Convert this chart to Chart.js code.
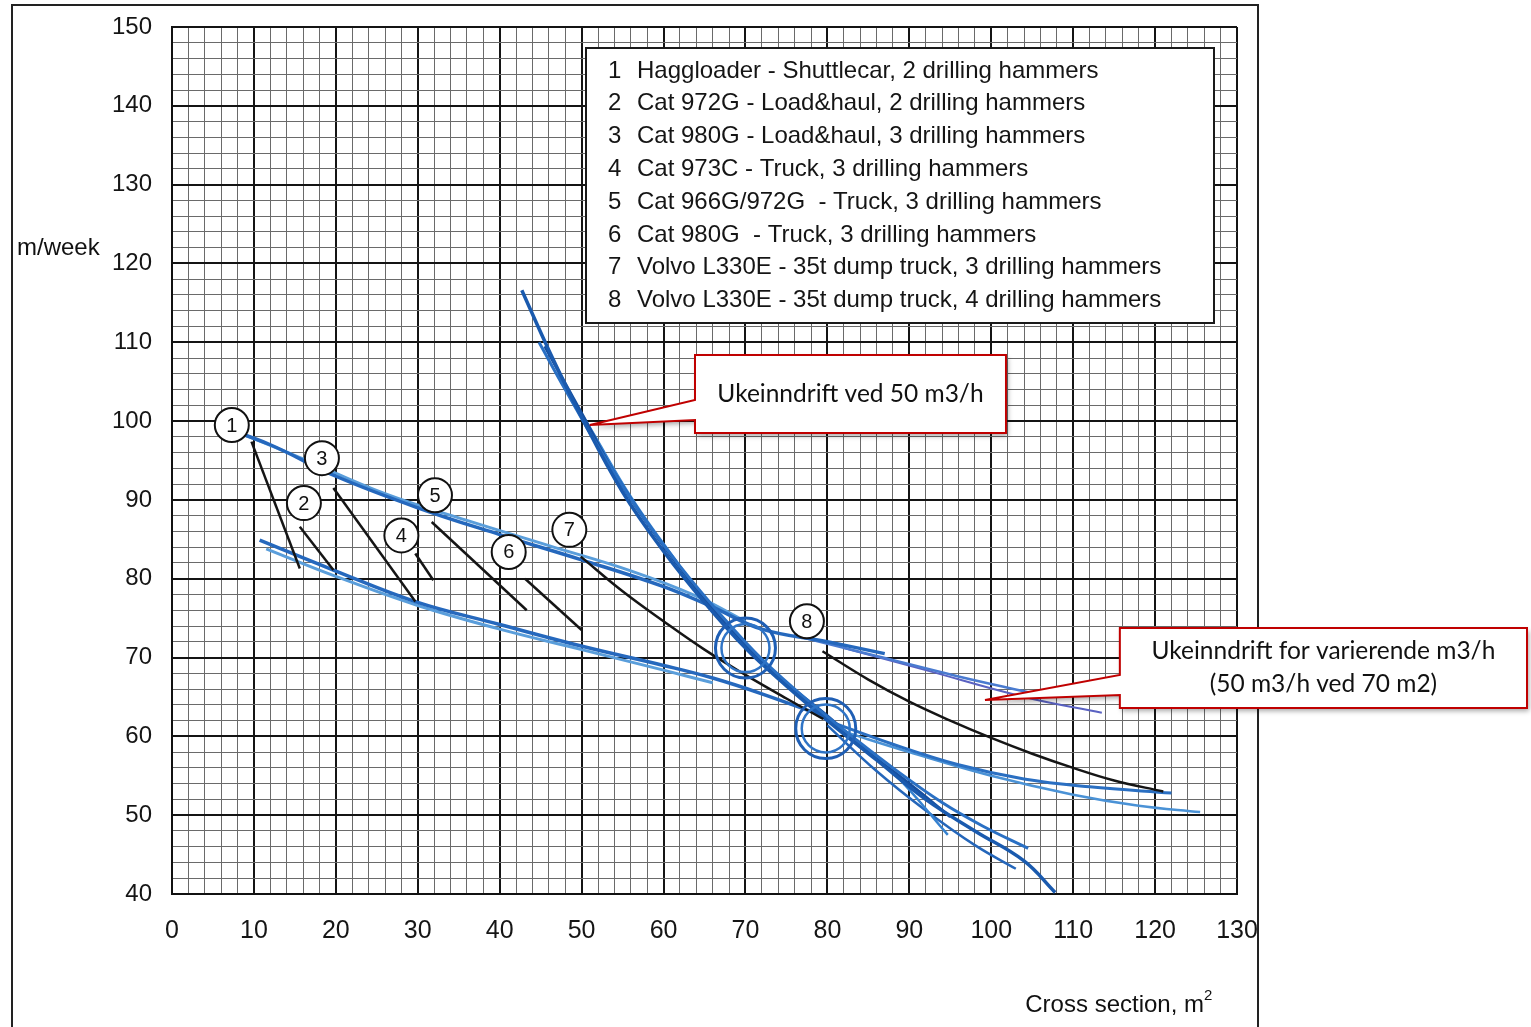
<!DOCTYPE html>
<html>
<head>
<meta charset="utf-8">
<title>Ukeinndrift</title>
<script src="https://cdn.jsdelivr.net/npm/chart.js@4.4.1/dist/chart.umd.min.js"></script>
<style>
  html, body { margin: 0; padding: 0; background: #fff; }
  canvas { display: block; }
</style>
</head>
<body>
<canvas id="chart" width="1531" height="1027"></canvas>
<script>
// axis ranges and tick labels
var xMin = 0, xMax = 130, yMin = 40, yMax = 150;
var xTickLabels = [0, 10, 20, 30, 40, 50, 60, 70, 80, 90, 100, 110, 120, 130];
var yTickLabels = [40, 50, 60, 70, 80, 90, 100, 110, 120, 130, 140, 150];

var legendLines = [
  "1  Haggloader - Shuttlecar, 2 drilling hammers",
  "2  Cat 972G - Load&haul, 2 drilling hammers",
  "3  Cat 980G - Load&haul, 3 drilling hammers",
  "4  Cat 973C - Truck, 3 drilling hammers",
  "5  Cat 966G/972G  - Truck, 3 drilling hammers",
  "6  Cat 980G  - Truck, 3 drilling hammers",
  "7  Volvo L330E - 35t dump truck, 3 drilling hammers",
  "8  Volvo L330E - 35t dump truck, 4 drilling hammers"
];

// numbered markers [x, y]
var markerNames = ["1", "2", "3", "4", "5", "6", "7", "8"];
var markerPoints = [[7.3, 99.5], [16.1, 89.6], [18.3, 95.3], [28.0, 85.5],
                    [32.1, 90.6], [41.1, 83.4], [48.5, 86.2], [77.5, 74.6]];

// black hand-drawn lines
var black1 = [[9.7, 97.4], [15.6, 81.3]];
var black2 = [[15.6, 86.6], [19.7, 81.1]];
var black3 = [[19.7, 91.5], [29.7, 77.1]];
var black4 = [[29.7, 83.2], [31.9, 79.8]];
var black5 = [[31.7, 87.2], [43.3, 76.0]];
var black6 = [[43.1, 80.0], [50.0, 73.5]];
var black7 = [[49.9, 82.8], [55, 78.4], [60, 74.6], [65, 71.0], [70, 67.8], [75, 64.8], [79.5, 62.2]];
var black8 = [[79.4, 70.8], [85, 67.2], [90, 64.4], [95, 62.0], [100, 59.8], [105, 57.8], [110, 56.0], [115, 54.4], [121, 53.0]];

// blue band, upper (shallow)
var upper1 = [[5.9, 99.3], [12, 97.0], [20, 93.0], [30, 89.0], [40, 85.6], [50, 82.4], [60, 79.0], [66, 76.4], [72, 73.6], [80, 72.0], [87, 70.5]];
var upper2 = [[8, 98.6], [16, 95.2], [26, 90.8], [36, 87.4], [46, 84.2], [56, 81.0], [64, 77.8], [70, 74.6]];
var upper3 = [[76, 72.8], [86, 70.2], [96, 67.6], [104.5, 65.6]];
var upper4 = [[82, 71.2], [92, 68.4], [104, 65.0], [113.5, 63.0]];

// blue band, lower (shallow)
var lower1 = [[10.7, 84.9], [19.7, 81.1], [29.7, 77.1], [40, 74.2], [50.2, 71.4], [60, 69.0], [66, 67.4], [72, 65.4], [80, 62.4]];
var lower2 = [[11.5, 83.8], [20, 80.3], [30, 76.6], [40, 73.6], [50, 71.0], [60, 68.4], [66, 66.8]];
var lower3 = [[80, 62.0], [88, 59.0], [96, 56.4], [104, 54.6], [112, 53.6], [122, 52.8]];
var lower4 = [[82, 60.6], [90, 58.0], [100, 55.0], [110, 52.6], [118, 51.2], [125.5, 50.4]];

// blue band, steep (50 m3/h)
var steep1 = [[42.7, 116.6], [46, 109], [50, 100.5], [55, 91], [60, 83.5], [65, 77], [70, 71.2], [75, 66.4], [80, 62], [86, 57], [92, 52], [98, 48], [104, 44.2], [107.8, 40.2]];
var steep2 = [[44.8, 110], [48, 104], [52, 96.8], [57, 88.6], [62, 81.6], [67, 75.4], [72, 69.8], [78, 64.2], [83, 60], [88, 56], [94, 51.6], [99, 48.6], [104.5, 45.8]];
var steep3 = [[45.5, 109.5], [50, 101], [54, 93.4], [59, 85.6], [64, 78.8], [69, 72.8], [74, 67.6], [80, 62.6], [85, 58], [90, 54], [95, 49.8]];
var steep4 = [[47, 106], [51, 99.2], [56, 90.4], [61, 83], [66, 76.2], [71, 70.6], [76, 65.6], [82, 60.4], [88, 55.4], [94.7, 47.5]];
var steep5 = [[80, 61.4], [86, 55.6], [92, 50.6], [98, 46.2], [103, 43.2]];

// hand-drawn rings round the crossings
var ringPoints = [[70.0, 71.2], [79.8, 61.0]];

function pts(arr) {
  return arr.map(function(p) { return {x: p[0], y: p[1]}; });
}

function line(arr, color, width, tension) {
  return {
    data: pts(arr),
    showLine: true,
    borderColor: color,
    borderWidth: width,
    pointRadius: 0,
    tension: tension,
    fill: false
  };
}

function ring(radius, color, width) {
  return {
    data: pts(ringPoints),
    showLine: false,
    pointRadius: radius,
    pointBackgroundColor: 'rgba(0,0,0,0)',
    pointBorderColor: color,
    pointBorderWidth: width
  };
}

var datasets = [
  {
    data: pts(markerPoints),
    showLine: false,
    pointStyle: 'circle',
    pointRadius: 17,
    pointBackgroundColor: '#fff',
    pointBorderColor: '#111',
    pointBorderWidth: 2
  },
  ring(30, '#1f5fb5', 3),
  ring(24, '#2f74c6', 2.5),
  line(black1, '#151515', 2.5, 0),
  line(black2, '#151515', 2.5, 0),
  line(black3, '#151515', 2.5, 0),
  line(black4, '#151515', 2.5, 0),
  line(black5, '#151515', 2.5, 0),
  line(black6, '#151515', 2.5, 0),
  line(black7, '#151515', 2.5, 0.4),
  line(black8, '#151515', 2.5, 0.4),
  line(steep1, '#1a5aae', 3.5, 0.4),
  line(steep2, '#2a70c4', 3, 0.4),
  line(steep3, '#174f9f', 3, 0.4),
  line(steep4, '#3682d0', 2.5, 0.4),
  line(steep5, '#2466ba', 2.5, 0.4),
  line(upper1, '#2568bd', 3.5, 0.4),
  line(upper2, '#5a9edb', 3, 0.4),
  line(upper3, '#4a7bd0', 2.5, 0.4),
  line(upper4, '#5a62c2', 2, 0.4),
  line(lower1, '#2568bd', 3.5, 0.4),
  line(lower2, '#5a9edb', 3, 0.4),
  line(lower3, '#2a6fc2', 3, 0.4),
  line(lower4, '#4a92d6', 2.5, 0.4)
];

// frame round the page and the legend box
var backdrop = {
  id: 'backdrop',
  beforeDraw: function(chart) {
    var ctx = chart.ctx;
    ctx.save();
    ctx.fillStyle = '#fff';
    ctx.fillRect(0, 0, chart.width, chart.height);
    ctx.strokeStyle = '#222';
    ctx.lineWidth = 2;
    ctx.beginPath();
    ctx.moveTo(12, chart.height + 5);
    ctx.lineTo(12, 5);
    ctx.lineTo(1258, 5);
    ctx.lineTo(1258, chart.height + 5);
    ctx.stroke();

    ctx.fillStyle = '#111';
    ctx.font = '24px "Liberation Sans", Arial, sans-serif';
    ctx.textBaseline = 'middle';
    ctx.textAlign = 'left';
    ctx.fillText('m/week', 17, 248);

    ctx.textAlign = 'right';
    ctx.textBaseline = 'alphabetic';
    ctx.fillText('Cross section, m', 1204, 1012);
    ctx.font = '15px "Liberation Sans", Arial, sans-serif';
    ctx.textAlign = 'left';
    ctx.fillText('2', 1204, 1000);
    ctx.restore();
  },
  beforeDatasetsDraw: function(chart) {
    var ctx = chart.ctx;
    ctx.save();
    ctx.fillStyle = '#fff';
    ctx.fillRect(586, 48, 628, 275);
    ctx.strokeStyle = '#1a1a1a';
    ctx.lineWidth = 2;
    ctx.strokeRect(586, 48, 628, 275);
    ctx.fillStyle = '#151515';
    ctx.font = '24px "Liberation Sans", Arial, sans-serif';
    ctx.textBaseline = 'middle';
    ctx.textAlign = 'left';
    legendLines.forEach(function(t, i) {
      var num = t.substring(0, 1);
      var rest = t.substring(3);
      ctx.fillText(num, 608, 71 + i * 32.8);
      ctx.fillText(rest, 637, 71 + i * 32.8);
    });
    ctx.restore();
  }
};

// callout boxes, anchored in data coordinates
var callouts = [
  {
    tip: [51.0, 99.5], left: 63.84, right: 101.8, top: 108.4, bottom: 98.49,
    wedgeTop: 102.68, wedgeBottom: 100.14,
    lines: ["Ukeinndrift ved 50 m3/h"]
  },
  {
    tip: [99.24, 64.6], left: 115.7, right: 165.4, top: 73.75, bottom: 63.6,
    wedgeTop: 67.8, wedgeBottom: 65.25,
    lines: ["Ukeinndrift for varierende m3/h", "(50 m3/h ved 70 m2)"]
  }
];

var overlay = {
  id: 'overlay',
  afterDatasetsDraw: function(chart) {
    var ctx = chart.ctx;
    var xs = chart.scales.x, ys = chart.scales.y;

    // numbers in the marker circles
    var meta = chart.getDatasetMeta(0);
    ctx.save();
    ctx.fillStyle = '#111';
    ctx.font = '20px "Liberation Sans", Arial, sans-serif';
    ctx.textAlign = 'center';
    ctx.textBaseline = 'middle';
    meta.data.forEach(function(el, i) {
      ctx.fillText(markerNames[i], el.x, el.y + 1);
    });
    ctx.restore();

    callouts.forEach(function(c) {
      var l = xs.getPixelForValue(c.left), r = xs.getPixelForValue(c.right);
      var t = ys.getPixelForValue(c.top), b = ys.getPixelForValue(c.bottom);
      var wt = ys.getPixelForValue(c.wedgeTop), wb = ys.getPixelForValue(c.wedgeBottom);
      var tx = xs.getPixelForValue(c.tip[0]), ty = ys.getPixelForValue(c.tip[1]);
      ctx.save();
      ctx.beginPath();
      ctx.moveTo(l, t);
      ctx.lineTo(r, t);
      ctx.lineTo(r, b);
      ctx.lineTo(l, b);
      ctx.lineTo(l, wb);
      ctx.lineTo(tx, ty);
      ctx.lineTo(l, wt);
      ctx.closePath();
      ctx.shadowColor = 'rgba(0,0,0,0.35)';
      ctx.shadowBlur = 5;
      ctx.shadowOffsetX = 2;
      ctx.shadowOffsetY = 3;
      ctx.fillStyle = '#fff';
      ctx.fill();
      ctx.shadowColor = 'rgba(0,0,0,0)';
      ctx.strokeStyle = '#c00000';
      ctx.lineWidth = 2;
      ctx.stroke();
      ctx.fillStyle = '#111';
      ctx.font = '24.5px Lato, "Open Sans", sans-serif';
      ctx.textAlign = 'center';
      ctx.textBaseline = 'middle';
      var cx = (l + r) / 2, cy = (t + b) / 2;
      var step = 33;
      c.lines.forEach(function(s, i) {
        ctx.fillText(s, cx, cy + (i - (c.lines.length - 1) / 2) * step);
      });
      ctx.restore();
    });
  }
};

function gridColor(ctx) {
  if (!ctx.tick) return '#555';
  return ctx.tick.value % 10 === 0 ? '#141414' : '#6a6a6a';
}

function gridWidth(ctx) {
  if (!ctx.tick) return 1;
  return ctx.tick.value % 10 === 0 ? 2 : 1;
}

new Chart(document.getElementById('chart'), {
  type: 'scatter',
  data: { datasets: datasets },
  options: {
    responsive: false,
    animation: false,
    devicePixelRatio: 1,
    // no extra room for the big rings, keep the plot where the paper has it
    layout: { autoPadding: false, padding: { left: 0, top: 27, right: 294, bottom: 0 } },
    plugins: {
      legend: { display: false },
      tooltip: { enabled: false }
    },
    scales: {
      x: {
        type: 'linear',
        min: xMin,
        max: xMax,
        afterFit: function(scale) {
          scale.height = 133;
          scale.paddingLeft = 0;
          scale.paddingRight = 0;
        },
        grid: { color: gridColor, lineWidth: gridWidth, drawTicks: false },
        border: { display: true, color: '#111', width: 2 },
        ticks: {
          stepSize: 2,
          autoSkip: false,
          maxRotation: 0,
          padding: 22,
          color: '#151515',
          font: { family: '"Liberation Sans Narrow", "Liberation Sans", Arial, sans-serif', size: 25 },
          callback: function(v) { return xTickLabels.indexOf(v) >= 0 ? String(v) : ''; }
        }
      },
      y: {
        type: 'linear',
        min: yMin,
        max: yMax,
        afterFit: function(scale) {
          scale.width = 172;
          scale.paddingTop = 0;
          scale.paddingBottom = 0;
        },
        grid: { color: gridColor, lineWidth: gridWidth, drawTicks: false },
        border: { display: true, color: '#111', width: 2 },
        ticks: {
          stepSize: 2,
          autoSkip: false,
          padding: 20,
          color: '#151515',
          font: { family: '"Liberation Sans", Arial, sans-serif', size: 24 },
          callback: function(v) { return yTickLabels.indexOf(v) >= 0 ? String(v) : ''; }
        }
      }
    }
  },
  plugins: [backdrop, overlay]
});
</script>
</body>
</html>
